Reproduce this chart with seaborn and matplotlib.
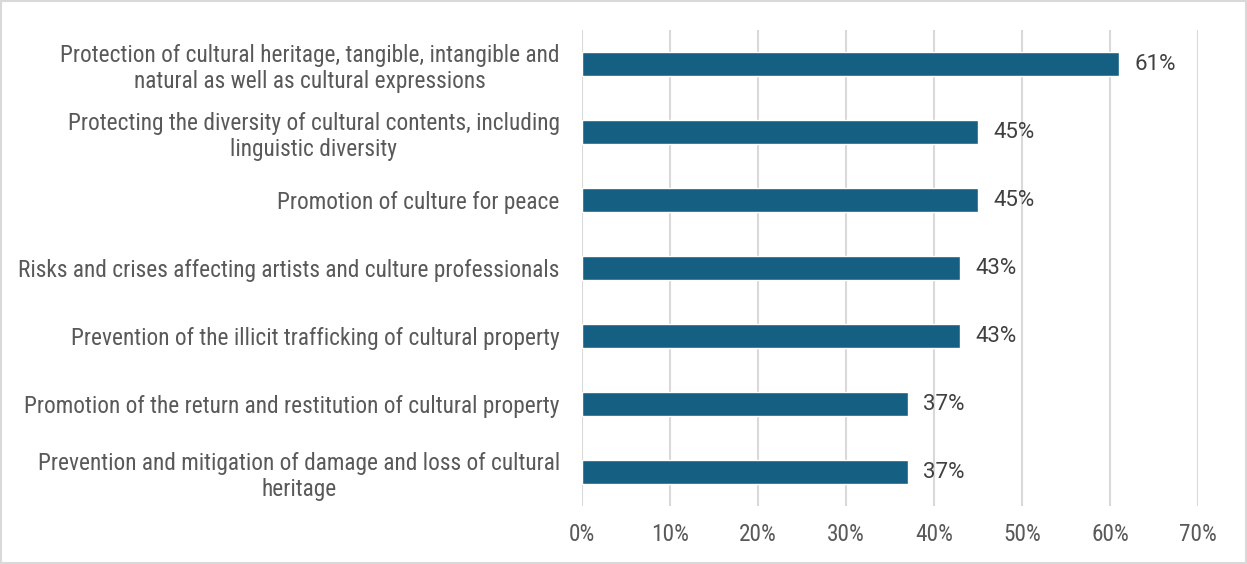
import matplotlib
matplotlib.use("Agg")
import matplotlib.pyplot as plt
from matplotlib import font_manager
from matplotlib.patches import Rectangle
from matplotlib.ticker import FuncFormatter, MultipleLocator
import seaborn as sns
import pandas as pd

categories = [
    "Protection of cultural heritage, tangible, intangible and\nnatural as well as cultural expressions",
    "Protecting the diversity of cultural contents, including\nlinguistic diversity",
    "Promotion of culture for peace",
    "Risks and crises affecting artists and culture professionals",
    "Prevention of the illicit trafficking of cultural property",
    "Promotion of the return and restitution of cultural property",
    "Prevention and mitigation of damage and loss of cultural\nheritage",
]
shares = [61, 45, 45, 43, 43, 37, 37]

df = pd.DataFrame({"topic": categories, "share": shares})

installed = {f.name for f in font_manager.fontManager.ttflist}
family = next((n for n in ["Liberation Sans Narrow", "Roboto Condensed", "Roboto"]
               if n in installed), "DejaVu Sans")

sns.set_theme(style="white")
plt.rcParams["font.family"] = [family, "DejaVu Sans"]

BAR = "#156082"
TXT = "#595959"
GRID = "#d9d9d9"
FS = 16.8

fig = plt.figure(figsize=(12.47, 5.64), dpi=100)
ax = fig.add_axes([0.4667, 0.1028, 0.4940, 0.8440])

sns.barplot(data=df, x="share", y="topic", color=BAR, width=0.35,
            saturation=1, ax=ax, orient="h")

ax.set_xlim(0, 70)
ax.xaxis.set_major_locator(MultipleLocator(10))
ax.xaxis.set_major_formatter(FuncFormatter(lambda v, p: f"{v:.0f}%"))
ax.grid(axis="x", color=GRID, linewidth=1.5)
ax.set_axisbelow(True)
for s in ax.spines.values():
    s.set_visible(False)
ax.set_xlabel("")
ax.set_ylabel("")
ax.tick_params(axis="x", labelsize=FS, colors=TXT, pad=12, length=0)
ax.tick_params(axis="y", labelsize=FS, colors=TXT, pad=16, length=0)
for lbl in ax.get_yticklabels():
    lbl.set_multialignment("center")
    lbl.set_linespacing(1.2)

for cont in ax.containers:
    ax.bar_label(cont, labels=[f"{v}%" for v in shares], padding=11,
                 fontsize=16, color="#404040", family=["Roboto", "DejaVu Sans"])

fig.add_artist(Rectangle((0.001, 0.002), 0.998, 0.996, transform=fig.transFigure,
                         fill=False, edgecolor=GRID, linewidth=1.5))

fig.savefig("out.png", dpi=100)
